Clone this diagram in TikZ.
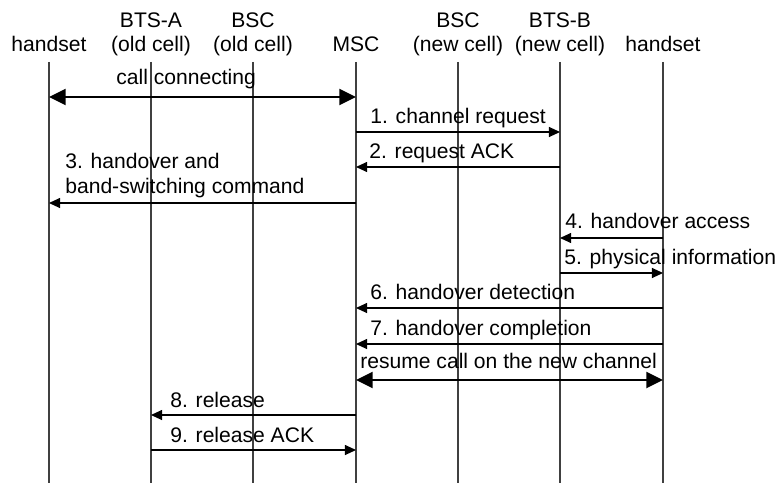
\documentclass[tikz,border=0pt]{standalone}
\usepackage{fontspec}
\setmainfont{Liberation Sans}
\usetikzlibrary{arrows.meta}

\begin{document}
\begin{tikzpicture}[
    x=0.02cm, y=-0.02cm,
    every node/.style={font=\fontsize{12}{14.2}\selectfont, inner sep=0pt},
    head/.style={align=center, anchor=base},
    lbl/.style={align=left, anchor=base west},
    life/.style={draw=black!75, line width=0.6pt},
    msg/.style={line width=0.6pt, -{Triangle[length=6.3pt,width=5.7pt]}},
    call/.style={line width=1.7pt, {Triangle[length=9.5pt,width=9pt]}-{Triangle[length=9.5pt,width=9pt]}}
]
\useasboundingbox (0,0) rectangle (777,483);

% Entities
\node[head] (hsa) at (49,52) {handset};
\node[head] (btsa) at (151,52) {BTS-A\\(old cell)};
\node[head] (bsca) at (253,52) {BSC\\(old cell)};
\node[head] (msc) at (356,52) {MSC};
\node[head] (bscb) at (458,52) {BSC\\(new cell)};
\node[head] (btsb) at (560,52) {BTS-B\\(new cell)};
\node[head] (hsb) at (663,52) {handset};

% Lifelines
\foreach \n/\x in {hsa/49, btsa/151, bsca/253, msc/356, bscb/458, btsb/560, hsb/663} {
    \coordinate (\n-top) at (\x,62);
    \coordinate (\n-bot) at (\x,483);
    \draw[life] (\n-top) -- (\n-bot);
}

% Message rows
\coordinate (r0) at (0,97);
\coordinate (r1) at (0,132);
\coordinate (r2) at (0,167);
\coordinate (r3) at (0,203);
\coordinate (r4) at (0,238);
\coordinate (r5) at (0,273);
\coordinate (r6) at (0,308);
\coordinate (r7) at (0,344);
\coordinate (r8) at (0,380);
\coordinate (r9) at (0,415);
\coordinate (r10) at (0,450);

% Old call
\draw[call] (hsa-top |- r0) -- (msc-top |- r0);
\node[lbl] (l0) at (116,85) {call connecting};

% Handover signalling
\draw[msg] (msc-top |- r1) -- (btsb-top |- r1);
\node[lbl] (l1) at (370,123) {1. channel request};
\draw[msg] (btsb-top |- r2) -- (msc-top |- r2);
\node[lbl] (l2) at (369,158) {2. request ACK};
\draw[msg] (msc-top |- r3) -- (hsa-top |- r3);
\node[lbl] (l3) at (65,193) {3. handover and\\band-switching command};
\draw[msg] (hsb-top |- r4) -- (btsb-top |- r4);
\node[lbl] (l4) at (565,228) {4. handover access};
\draw[msg] (btsb-top |- r5) -- (hsb-top |- r5);
\node[lbl] (l5) at (564,264) {5. physical information};
\draw[msg] (hsb-top |- r6) -- (msc-top |- r6);
\node[lbl] (l6) at (370,299) {6. handover detection};
\draw[msg] (hsb-top |- r7) -- (msc-top |- r7);
\node[lbl] (l7) at (370,335) {7. handover completion};

% New call
\draw[call] (msc-top |- r8) -- (hsb-top |- r8);
\node[lbl] (l8) at (360,368) {resume call on the new channel};

% Release of old channel
\draw[msg] (msc-top |- r9) -- (btsa-top |- r9);
\node[lbl] (l9) at (170,407) {8. release};
\draw[msg] (btsa-top |- r10) -- (msc-top |- r10);
\node[lbl] (l10) at (170,442) {9. release ACK};

\end{tikzpicture}
\end{document}
